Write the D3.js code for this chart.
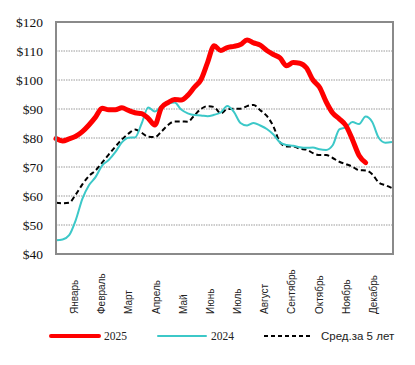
<!DOCTYPE html>
<html><head><meta charset="utf-8">
<script src="https://cdn.jsdelivr.net/npm/d3@7"></script>
<style>body{margin:0;background:#fff}svg{display:block}</style>
</head><body>
<svg id="c" width="415" height="365"></svg>
<script>
const months = ["Январь","Февраль","Март","Апрель","Май","Июнь","Июль","Август","Сентябрь","Октябрь","Ноябрь","Декабрь"];
const yTicks = [40,50,60,70,80,90,100,110,120];
const s2025 = [79.8,79.0,79.7,80.6,82.2,84.5,87.2,90.3,89.7,89.7,90.4,89.5,88.7,88.4,86.8,84.5,90.5,92.2,93.3,93.1,94.7,97.5,100.1,106,111.8,110.2,111.2,111.6,112.2,113.8,112.8,112.0,110.2,108.8,107.6,104.9,106,105.8,104.2,100,97.5,92.5,88.6,86.6,84.3,79.4,74.0,71.5];
const s2024 = [44.7,45,46.5,51.7,59,63.7,66.5,70.5,72.4,75.1,78.5,80.1,80.2,85,90.5,89.1,91,91.8,92.2,89.8,88.5,87.9,87.8,87.5,88,88.8,91,89,85.2,84.3,85.2,84.3,83.1,81.2,78.5,77.6,77.3,76.8,76.6,76.7,76.1,75.9,77.5,83,83.7,85.5,84.8,87.4,85.5,80,78.4,78.6];
const avg5 = [57.7,57.5,57.7,60.5,64,66.9,68.8,71.5,74.3,77,79.5,81.5,82.9,81.8,80.4,80.3,82.2,84.5,85.7,85.7,85.6,87.8,90,91,90.7,88.5,90,90.1,90.1,91,91.4,89.6,87.6,84,78.5,77.1,77.1,76.3,76,74.8,74.1,74.1,73.1,71.8,71,70.1,68.9,68.8,67.5,64.6,63.7,62.7];
const legendLabels = ["2025","2024","Сред.за 5 лет"];

const SERIF = '"Liberation Serif", "DejaVu Serif", serif';
const SANS = '"Liberation Sans", Arial, sans-serif';
const svg = d3.select("#c");
const L = 56, R = 393, T = 22, B = 254;
const x = d3.scaleLinear().domain([0, 51]).range([L, R - 1]);
const y = d3.scaleLinear().domain([40, 120]).range([B, T]);
const xm = d3.scaleBand().domain(months).range([61, 387]);

// gridlines
svg.append("g").selectAll("line").data(yTicks.filter(d => d > 40 && d < 120)).join("line")
  .attr("x1", L).attr("x2", R).attr("y1", d => y(d)).attr("y2", d => y(d))
  .attr("stroke", "#9a9a9a").attr("stroke-width", 1).attr("stroke-dasharray", "1.5,1");

// y axis labels
const ya = d3.axisLeft(y).tickValues(yTicks).tickFormat(d => "$" + d).tickSize(0).tickPadding(13);
const yg = svg.append("g").attr("transform", `translate(${L},0)`).call(ya);
yg.attr("font-family", SERIF).attr("font-size", 13.5).style("font-family", SERIF);
yg.select(".domain").remove();
yg.selectAll("text").style("font-family", SERIF).style("font-size", "13.5px").attr("fill", "#111");

// x month labels
const xa = d3.axisBottom(xm).tickSize(0);
const xg = svg.append("g").attr("transform", `translate(0,${B})`).call(xa);
xg.attr("font-family", SANS).attr("font-size", 10);
xg.select(".domain").remove();
xg.selectAll("text").style("font-family", SANS).style("font-size", "10px").attr("fill", "#222")
  .attr("text-anchor", "start").attr("dy", null)
  .attr("transform", "translate(3.5,60) rotate(-90)").attr("x", 0).attr("y", 0);

// lines
const line = d3.line().x((d, i) => x(i)).y(d => y(d)).curve(d3.curveMonotoneX);
svg.append("path").datum(avg5).attr("d", line).attr("fill", "none")
  .attr("stroke", "#000").attr("stroke-width", 2).attr("stroke-dasharray", "5,3");
svg.append("path").datum(s2024).attr("d", line).attr("fill", "none")
  .attr("stroke", "#3cc8c8").attr("stroke-width", 2);
svg.append("path").datum(s2025).attr("d", line).attr("fill", "none")
  .attr("stroke", "#ff0000").attr("stroke-width", 5).attr("stroke-linejoin", "round").attr("stroke-linecap", "round");

// border
svg.append("rect").attr("x", L).attr("y", T).attr("width", R - L).attr("height", B - T)
  .attr("fill", "none").attr("stroke", "#8a8a8a").attr("stroke-width", 2);

// legend
const lg = svg.append("g");
const items = [
  {x1: 51, x2: 99, tx: 104, color: "#ff0000", w: 4, dash: null, font: SERIF},
  {x1: 158, x2: 206, tx: 211, color: "#3cc8c8", w: 2, dash: null, font: SERIF},
  {x1: 264, x2: 313, tx: 321, color: "#000", w: 2, dash: "4,3", font: SANS}
];
items.forEach((it, k) => {
  lg.append("line").attr("x1", it.x1).attr("x2", it.x2).attr("y1", 336).attr("y2", 336)
    .attr("stroke", it.color).attr("stroke-width", it.w).attr("stroke-linecap", it.dash ? "butt" : "round")
    .attr("stroke-dasharray", it.dash);
  lg.append("text").attr("x", it.tx).attr("y", 340).text(legendLabels[k])
    .style("font-family", it.font).style("font-size", "11.5px").attr("fill", "#222");
});
</script>
</body></html>
